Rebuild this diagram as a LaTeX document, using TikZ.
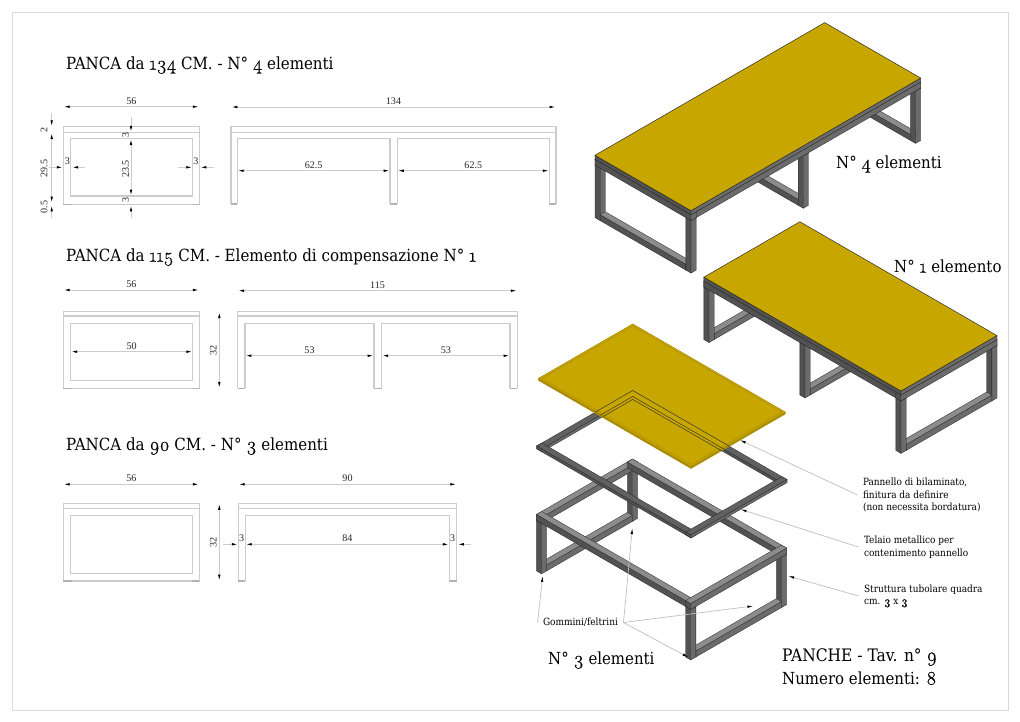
\documentclass[tikz,border=0pt]{standalone}
\usepackage{fontspec}
\setmainfont{Liberation Serif}
\newfontfamily\notefont{DejaVu Serif Condensed}
\newfontfamily\notenum[Numbers=OldStyle,Scale=1.15,FakeBold=0.6]{Latin Modern Roman}
\newcommand{\ond}[1]{{\notenum #1}}
\usepackage{tikz}
\usetikzlibrary{calc}
\usetikzlibrary{arrows.meta}
\definecolor{plategold}{HTML}{C8A600}
\definecolor{platedark}{HTML}{A88A00}

\begin{document}
\begin{tikzpicture}[x=0.03cm,y=-0.03cm]
    \tikzstyle{dimline}=[draw=black!20,line width=0.8pt,>={Latex[length=5.5pt,width=2.2pt,color=black]}]
    \tikzstyle{viewline}=[draw=black!20,line width=1pt]
    \tikzstyle{footline}=[draw=black!30,line width=1pt]
    \tikzstyle{dimtext}=[font=\fontsize{8.6}{10}\selectfont,text=black!85,inner sep=0pt]
    \tikzstyle{headtext}=[font=\notefont\fontsize{14.3}{15}\selectfont,anchor=west,inner sep=0pt,yshift=-1.2pt]
    \tikzstyle{counttext}=[font=\notefont\fontsize{14.2}{15}\selectfont,anchor=west,inner sep=0pt,yshift=-1.2pt]
    \tikzstyle{notetext}=[font=\notefont\fontsize{8.5}{10.7}\selectfont,align=left,anchor=west,inner ysep=0pt,inner xsep=4.5pt]
    \tikzstyle{leader}=[draw=black!25,line width=0.6pt,-{Latex[length=5pt,width=2.2pt,color=black]}]
    \tikzstyle{isoview}=[x={(0.05142cm,0.0297cm)},y={(-0.05142cm,0.0297cm)},z={(0cm,0.0594cm)}]
    \tikzstyle{faceu}=[fill=black!68,draw=black!85,line width=0.25pt]
    \tikzstyle{facev}=[fill=black!58,draw=black!85,line width=0.25pt]
    \tikzstyle{facew}=[fill=black!45,draw=black!85,line width=0.25pt]
    \tikzstyle{rimtop}=[fill=black!62,draw=black!85,line width=0.25pt]
    \tikzstyle{goldtop}=[fill=plategold,draw=black!85,line width=0.4pt]
    \tikzstyle{palegold}=[fill=plategold,draw=platedark,line width=0.4pt]
    \tikzstyle{goldu}=[fill=platedark,draw=platedark,line width=0.3pt]
    \tikzstyle{goldv}=[fill=platedark!85!plategold,draw=platedark,line width=0.3pt]
    \tikzstyle{rimline}=[draw=black!80,line width=0.4pt]

    % dimension with two tips, label over it
    \newcommand{\hdim}[5]{%
      \coordinate (#1a) at (#3,#2) ;
      \coordinate (#1b) at (#4,#2) ;
      \draw[dimline,<->] (#1a) -- (#1b) ;
      \node[dimtext] (#1t) at ($(#1a)!0.5!(#1b)+(0,-5.7)$) {#5} ;}
    \newcommand{\vdim}[5]{%
      \coordinate (#1a) at (#2,#3) ;
      \coordinate (#1b) at (#2,#4) ;
      \draw[dimline,<->] (#1a) -- (#1b) ;
      \node[dimtext,rotate=90] (#1t) at ($(#1a)!0.5!(#1b)+(-6,0)$) {#5} ;}

    % short view: top / panel / inner top / inner bottom / bottom
    \newcommand{\shortview}[5]{%
      \draw[viewline] (63.3,#1) rectangle (199.3,#5) ;
      \draw[viewline] (63.3,#2) -- (199.3,#2) ;
      \draw[viewline] (70.7,#3) rectangle (192.7,#4) ;
      \foreach \xa/\xb in {63.3/71.5,191.5/199.3}{%
        \draw[footline] (\xa,#5) -- (\xb,#5) ;}}

    % long view: inner top / bottom / legs / bays
    \newcommand{\longview}[4]{%
      \foreach \xa/\xb in {#3}{%
        \draw[footline] (\xa,#2) -- (\xb,#2) ;}
      \foreach \xa/\xb in {#4}{%
        \draw[viewline] (\xa,#2) -- (\xa,#1) -- (\xb,#1) -- (\xb,#2) ;}}

    \newcommand{\tubebox}[7][facew]{%
      \draw[faceu] (#2,#3,#4) -- ++(0,{#6},0) -- ++(0,0,{#7}) -- ++(0,{-(#6)},0) -- cycle ;
      \draw[facev] (#2,#3,#4) -- ++({#5},0,0) -- ++(0,0,{#7}) -- ++({-(#5)},0,0) -- cycle ;
      \draw[#1] (#2,#3,#4) ++(0,0,{#7}) -- ++({#5},0,0) -- ++(0,{#6},0) -- ++({-(#5)},0,0) -- cycle ;}

    % legs and tubes of a frame across u
    \newcommand{\uframe}[3]{%
      \tubebox{#1}{#2-3}{#3}{3}{3}{-5-(#3)}
      \tubebox{#1}{3}{#3}{3}{#2-6}{3}
      \tubebox{#1}{0}{#3}{3}{3}{-5-(#3)}
      \tubebox{#1}{0}{-5}{3}{#2}{3}}
    % the same across v
    \newcommand{\vframe}[4]{%
      \tubebox{#2-3}{#1}{#3}{3}{3}{#4-(#3)}
      \tubebox{3}{#1}{#3}{#2-6}{3}{3}
      \tubebox{0}{#1}{#3}{3}{3}{#4-(#3)}
      \tubebox{0}{#1}{#4}{#2}{3}{3}}

    \useasboundingbox (0,0) rectangle (1020,721) ;
    \fill[white] (0,0) rectangle (1020,721) ;
    \draw[draw=black!15,line width=0.8pt] (12,12) rectangle (1008,710) ;

    % ---- first row
    \node[headtext] (title134) at (66,64) {PANCA da \ond{134} CM. - N° \ond{4} elementi} ;
    \shortview{126.7}{132.3}{138.3}{196}{204.3}
    \draw[viewline] (231,126.7) rectangle (556,132.3) ;
    \draw[viewline] (231,132.3) -- (231,204) ;
    \draw[viewline] (556,132.3) -- (556,204) ;
    \longview{138.3}{204}{231/237.3,390/397.3,549.3/556}{237.3/390,397.3/549.3}
    \hdim{wa}{106.7}{63.3}{199.3}{56}
    \hdim{la}{107}{231}{556}{134}
    \hdim{lb}{170.7}{237.3}{390}{62.5}
    \hdim{lc}{170.7}{397.3}{549.3}{62.5}

    \draw[dimline,->] (51.7,113) -- (51.7,126.7) ;
    \draw[dimline,->] (51.7,162) -- (51.7,132.7) ;
    \draw[dimline,->] (51.7,162) -- (51.7,203) ;
    \draw[dimline,->] (51.7,218) -- (51.7,205) ;
    \node[dimtext,rotate=90] (hpanel) at (44,129.5) {2} ;
    \node[dimtext,rotate=90] (hfull) at (44,168.7) {29.5} ;
    \node[dimtext,rotate=90] (hfoot) at (44,207) {0.5} ;

    \draw[dimline,->] (131,116.7) -- (131,132.3) ;
    \draw[dimline,->] (131,168) -- (131,138.7) ;
    \draw[dimline,->] (131,168) -- (131,196) ;
    \draw[dimline,->] (131,218) -- (131,205) ;
    \node[dimtext,rotate=90] (htop) at (125.5,134.5) {3} ;
    \node[dimtext,rotate=90] (hclear) at (125.5,169) {23.5} ;
    \node[dimtext,rotate=90] (hbase) at (125.5,199.5) {3} ;

    \draw[dimline,->] (49.3,167.3) -- (63.3,167.3) ;
    \draw[dimline,->] (85,167.3) -- (71.7,167.3) ;
    \draw[dimline,->] (177.7,167.3) -- (192.7,167.3) ;
    \draw[dimline,->] (214,167.3) -- (200,167.3) ;
    \node[dimtext] (sidea) at (67.3,161.5) {3} ;
    \node[dimtext] (sideb) at (196,161.5) {3} ;

    % ---- second row
    \node[headtext] (title115) at (66,256) {PANCA da \ond{115} CM. - Elemento di compensazione N° \ond{1}} ;
    \shortview{311.7}{316}{323.3}{380.7}{388.3}
    \draw[viewline] (237.7,311.7) rectangle (517.3,316) ;
    \draw[viewline] (237.7,316) -- (237.7,388.3) ;
    \draw[viewline] (517.3,316) -- (517.3,388.3) ;
    \longview{323.3}{388.3}{237.7/245,374/381.7,510/517.3}{245/374,381.7/510}
    \hdim{wb}{290}{63.3}{199.3}{56}
    \hdim{wc}{351.7}{70.7}{192.7}{50}
    \vdim{ha}{219.3}{311.7}{388.3}{32}
    \hdim{ld}{290.7}{237.7}{517.3}{115}
    \hdim{le}{355.7}{245}{374}{53}
    \hdim{lf}{355.7}{381.7}{510}{53}

    % ---- third row
    \node[headtext] (title90) at (66,445) {PANCA da \ond{90} CM. - N° \ond{3} elementi} ;
    \shortview{503.3}{508.3}{515.7}{573.3}{581}
    \draw[viewline] (238.3,503.3) rectangle (456.7,508.3) ;
    \draw[viewline] (238.3,508.3) -- (238.3,581) ;
    \draw[viewline] (456.7,508.3) -- (456.7,581) ;
    \longview{515.7}{581}{238.3/245.3,449.3/456.7}{245.3/449.3}
    \hdim{wd}{484.3}{63.3}{199.3}{56}
    \vdim{hb}{219.3}{503.3}{581}{32}
    \hdim{lg}{484.3}{238.3}{456.7}{90}
    \hdim{lh}{544.3}{245.3}{449.3}{84}
    \draw[dimline,->] (223.3,544.3) -- (238.3,544.3) ;
    \draw[dimline,->] (470.7,544.3) -- (457.3,544.3) ;
    \node[dimtext] (sidec) at (241.7,538.3) {3} ;
    \node[dimtext] (sided) at (452.7,538.3) {3} ;

    % ---- bench with 4 elements
    \begin{scope}[shift={(691,210.7)},isoview]
      \uframe{131}{56}{-31.5}
      \uframe{65.5}{56}{-31.5}
      \tubebox{0}{53}{-5}{134}{3}{3}
      \tubebox{0}{0}{-5}{134}{3}{3}
      \uframe{0}{56}{-31.5}
      \tubebox[goldtop]{0}{0}{-2}{134}{56}{2}
    \end{scope}

    % ---- bench with 1 element
    \begin{scope}[shift={(901,391)},isoview]
      \vframe{112}{56}{-31.5}{-5}
      \vframe{56}{56}{-31.5}{-5}
      \tubebox{53}{0}{-5}{3}{115}{3}
      \tubebox{0}{0}{-5}{3}{115}{3}
      \vframe{0}{56}{-31.5}{-5}
      \tubebox[goldtop]{0}{0}{-2}{56}{115}{2}
    \end{scope}

    % ---- exploded bench
    \begin{scope}[shift={(690.7,603.5)},isoview]
      \vframe{87}{56}{-28.5}{-3}
      \tubebox{53}{0}{-3}{3}{90}{3}
      \tubebox{0}{0}{-3}{3}{90}{3}
      \vframe{0}{56}{-28.5}{-3}
    \end{scope}
    \begin{scope}[shift={(691,535)},isoview]
      \tubebox[rimtop]{0}{87}{-1.5}{56}{3}{1.5}
      \tubebox[rimtop]{53}{0}{-1.5}{3}{90}{1.5}
      \tubebox[rimtop]{0}{0}{-1.5}{3}{90}{1.5}
      \tubebox[rimtop]{0}{0}{-1.5}{56}{3}{1.5}
      \draw[goldu] (0,0,33.6) -- (0,89,33.6) -- (0,89,34.6) -- (0,0,34.6) -- cycle ;
      \draw[goldv] (0,0,33.6) -- (55,0,33.6) -- (55,0,34.6) -- (0,0,34.6) -- cycle ;
      \draw[palegold] (0,0,34.6) -- (55,0,34.6) -- (55,89,34.6) -- (0,89,34.6) -- cycle ;
      \draw[draw=platedark,line width=0.3pt] (1,1,34.6) -- (54,1,34.6) -- (54,88,34.6) -- (1,88,34.6) -- cycle ;
      \begin{scope}
        \clip (0,0,33.6) -- (55,0,33.6) -- (55,0,34.6) -- (55,89,34.6) -- (0,89,34.6) -- (0,0,33.6) -- cycle ;
        \draw[rimline] (0,0,0) -- (56,0,0) -- (56,90,0) -- (0,90,0) -- cycle ;
        \draw[rimline] (3,3,0) -- (53,3,0) -- (53,87,0) -- (3,87,0) -- cycle ;
        \draw[rimline] (3,3,-1.5) -- (53,3,-1.5) -- (53,87,-1.5) -- (3,87,-1.5) -- cycle ;
      \end{scope}
    \end{scope}

    % ---- notes
    \node[counttext] (counta) at (836,163) {N° \ond{4} elementi} ;
    \node[counttext] (countb) at (894,265) {N° \ond{1} elemento} ;
    \node[counttext] (countc) at (548,659) {N° \ond{3} elementi} ;
    \node[counttext,font=\notefont\fontsize{14.7}{15}\selectfont] (sheet) at (782,656) {PANCHE - Tav. n° \ond{9}} ;
    \node[counttext] (total) at (782,677) {Numero elementi: \ond{8}} ;

    \node[notetext] (panel) at (857.5,495) {Pannello di bilaminato,\\finitura da definire\\(non necessita bordatura)} ;
    \node[notetext] (rim) at (858.5,547) {Telaio metallico per\\contenimento pannello} ;
    \node[notetext] (tube) at (858.5,596) {Struttura tubolare quadra\\cm. \ond{3} x \ond{3}} ;
    \node[notetext,align=center,anchor=center] (pads) at (580.5,622.5) {Gommini/feltrini} ;

    \coordinate (paneltip) at (740,440) ;
    \coordinate (rimtip) at (740.7,509.3) ;
    \coordinate (tubetip) at (788.3,576) ;
    \coordinate (padtipa) at (542.7,576) ;
    \coordinate (padtipb) at (632.3,528.3) ;
    \coordinate (padtipc) at (753.3,606) ;
    \coordinate (padtipd) at (688.3,657.3) ;

    \draw[leader] (panel.west) -- (paneltip) ;
    \draw[leader] (rim.west) -- (rimtip) ;
    \draw[leader] (tube.west) -- (tubetip) ;
    \draw[leader] (pads.west) -- (padtipa) ;
    \draw[leader] (pads.east) -- (padtipb) ;
    \draw[leader] (pads.east) -- (padtipc) ;
    \draw[leader] (pads.east) -- (padtipd) ;

\end{tikzpicture}
\end{document}
